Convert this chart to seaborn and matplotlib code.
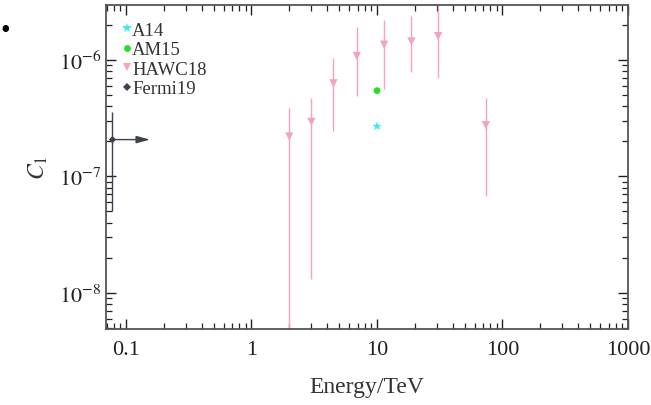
import numpy as np
import pandas as pd
import matplotlib
matplotlib.use("Agg")
import matplotlib.pyplot as plt
import seaborn as sns
from matplotlib.ticker import LogLocator, NullFormatter, FixedLocator, FixedFormatter

# ---- data ----
hawc_energy = [2.0, 3.0, 4.5, 6.9, 11.4, 18.8, 30.7, 73.7]
hawc_c1 = [2.2e-7, 2.94e-7, 6.3e-7, 1.08e-6, 1.35e-6, 1.44e-6, 1.6e-6, 2.75e-7]
hawc_hi = [3.85e-7, 4.75e-7, 1.03e-6, 1.9e-6, 2.2e-6, 2.4e-6, 5e-6, 4.75e-7]
hawc_lo = [1e-9, 1.32e-8, 2.47e-7, 4.87e-7, 5.6e-7, 7.8e-7, 7.05e-7, 6.84e-8]

a14_energy = [10.0]
a14_c1 = [2.69e-7]
am15_energy = [10.0]
am15_c1 = [5.45e-7]

fermi_energy = [0.078]
fermi_c1 = [2.07e-7]
fermi_hi = [3.6e-7]
fermi_lo = [5.0e-8]
fermi_arrow_end = [0.155]

x_ticks = [0.1, 1, 10, 100, 1000]
x_ticklabels = ["0.1", "1", "10", "100", "1000"]
y_ticks = [1e-8, 1e-7, 1e-6]
y_ticklabels = [r"$10^{-8}$", r"$10^{-7}$", r"$10^{-6}$"]

# ---- style ----
sns.set_style("ticks")
plt.rcParams["font.family"] = ["Liberation Serif", "DejaVu Serif"]
plt.rcParams["mathtext.fontset"] = "stix"

c_cyan = "#3ee8f0"
c_green = "#22e022"
c_pink = "#f4a3b9"
c_dark = "#3d4150"
frame = "#555555"

fig = plt.figure(figsize=(6.51, 4.06), dpi=100)
ax = fig.add_axes([106 / 651, 1 - 330 / 406, (628 - 106) / 651, (330 - 6) / 406])

# error lines
ax.vlines(hawc_energy, hawc_lo, hawc_hi, color=c_pink, lw=1.0, zorder=1)
ax.vlines(fermi_energy, fermi_lo, fermi_hi, color=c_dark, lw=1.0, zorder=1)
ax.annotate("", xy=(fermi_arrow_end[0], fermi_c1[0]), xytext=(fermi_energy[0], fermi_c1[0]),
            arrowprops=dict(arrowstyle="-|>,head_length=0.8,head_width=0.22", color=c_dark, lw=1.0,
                            shrinkA=0, shrinkB=0), zorder=2)

df = pd.concat([
    pd.DataFrame({"E": a14_energy, "C1": a14_c1, "src": "A14"}),
    pd.DataFrame({"E": am15_energy, "C1": am15_c1, "src": "AM15"}),
    pd.DataFrame({"E": hawc_energy, "C1": hawc_c1, "src": "HAWC18"}),
    pd.DataFrame({"E": fermi_energy, "C1": fermi_c1, "src": "Fermi19"}),
], ignore_index=True)

sns.scatterplot(data=df, x="E", y="C1", hue="src", style="src",
                palette={"A14": c_cyan, "AM15": c_green, "HAWC18": c_pink, "Fermi19": c_dark},
                markers={"A14": "*", "AM15": "o", "HAWC18": "v", "Fermi19": "D"},
                size="src", sizes={"A14": 50, "AM15": 24, "HAWC18": 36, "Fermi19": 14},
                linewidth=0, ax=ax, zorder=3, legend=True)

ax.set_xscale("log")
ax.set_yscale("log")
ax.set_xlim(0.0693, 1000)
ax.set_ylim(4.9e-9, 2.96e-6)

ax.xaxis.set_major_locator(FixedLocator(x_ticks))
ax.xaxis.set_major_formatter(FixedFormatter(x_ticklabels))
ax.yaxis.set_major_locator(FixedLocator(y_ticks))
ax.yaxis.set_major_formatter(FixedFormatter(y_ticklabels))
ax.xaxis.set_minor_locator(LogLocator(base=10, subs=np.arange(2, 10), numticks=20))
ax.yaxis.set_minor_locator(LogLocator(base=10, subs=np.arange(2, 10), numticks=20))
ax.xaxis.set_minor_formatter(NullFormatter())
ax.yaxis.set_minor_formatter(NullFormatter())

ax.tick_params(which="both", direction="in", top=True, right=True, color="#222222",
               labelsize=16, labelcolor="#222222")
ax.tick_params(which="major", length=7, width=1.0)
ax.tick_params(which="minor", length=4, width=0.9)
ax.tick_params(axis="x", pad=8)
for s in ax.spines.values():
    s.set_color(frame)
    s.set_linewidth(1.3)

ax.set_xlabel("Energy/TeV", fontsize=17, color="#333333", labelpad=12)
ax.set_ylabel(r"$C_1$", fontsize=17, color="#333333", labelpad=6)

leg = ax.legend(loc="upper left", bbox_to_anchor=(0.0, 0.978), frameon=False, fontsize=13.5,
                handletextpad=-0.3, borderaxespad=0.3, labelspacing=0.13, handlelength=1.2,
                borderpad=0.2, markerscale=1.0)
for t in leg.get_texts():
    t.set_color("#333333")

fig.text(5 / 651, 1 - 31 / 406, "\u2022", fontsize=20, color="black", ha="center", va="center")

fig.savefig("out.png", dpi=100)
